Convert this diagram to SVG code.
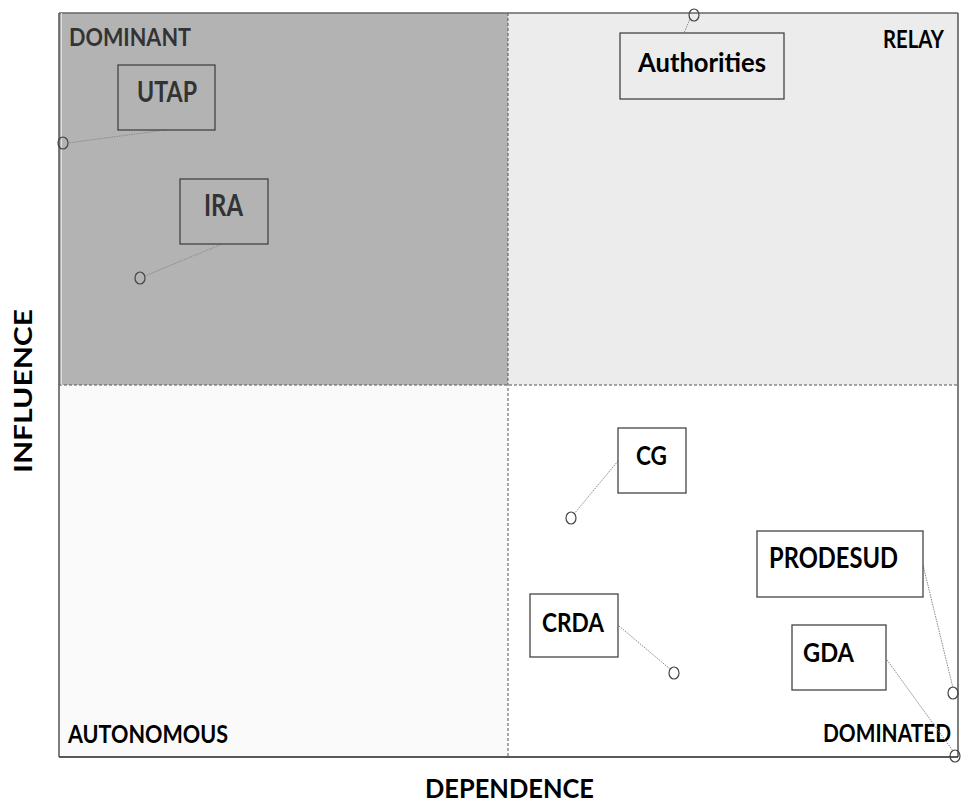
<svg xmlns="http://www.w3.org/2000/svg" width="965" height="804" viewBox="0 0 965 804">
<style>
.t{font-family:Lato,"Open Sans","Liberation Sans",sans-serif;font-weight:bold;fill:#000}
.g{fill:#333}
.box{stroke:#444;stroke-width:1.3}
.con{stroke:#8a8a8a;stroke-width:1;stroke-dasharray:1.5 1;fill:none}
.pt{fill:none;stroke:#444;stroke-width:1.2}
.div{stroke:#555;stroke-width:1;stroke-dasharray:3 2;fill:none}
</style>
<rect width="965" height="804" fill="#fff"/>
<g id="quadrants">
<rect x="59" y="13" width="449" height="372" fill="#b3b3b3"/>
<rect x="508" y="13" width="450" height="372" fill="#ececec"/>
<rect x="59" y="385" width="449" height="372" fill="#fafafa"/>
<rect x="508" y="385" width="450" height="372" fill="#fff"/>
<line x1="508" y1="13" x2="508" y2="757" class="div"/>
<line x1="59" y1="385" x2="958" y2="385" class="div"/>
<line x1="59" y1="13" x2="958" y2="13" stroke="#666" stroke-width="1.5"/>
<line x1="958" y1="13" x2="958" y2="757" stroke="#555" stroke-width="1.5"/>
<line x1="59" y1="757" x2="958" y2="757" stroke="#222" stroke-width="1.5"/>
<line x1="59" y1="13" x2="59" y2="757" stroke="#555" stroke-width="1.5"/>
<line x1="61.5" y1="13" x2="61.5" y2="385" stroke="#ddd" stroke-width="1"/>
</g>
<g id="quadrant-labels">
<text class="t g" x="69" y="46" font-size="25" textLength="122" lengthAdjust="spacingAndGlyphs">DOMINANT</text>
<text class="t" x="883" y="48" font-size="25" textLength="61" lengthAdjust="spacingAndGlyphs">RELAY</text>
<text class="t" x="68" y="743" font-size="24" textLength="160" lengthAdjust="spacingAndGlyphs">AUTONOMOUS</text>
<text class="t" x="823" y="742" font-size="24" textLength="128" lengthAdjust="spacingAndGlyphs">DOMINATED</text>
</g>
<g id="axis-labels">
<text class="t" x="425" y="798" font-size="27" textLength="169" lengthAdjust="spacingAndGlyphs">DEPENDENCE</text>
<text class="t" x="0" y="0" font-size="24" transform="translate(32,473) rotate(-90)" textLength="164" lengthAdjust="spacingAndGlyphs">INFLUENCE</text>
</g>
<g id="connectors">
<line class="con" x1="165" y1="130" x2="68" y2="143"/>
<line class="con" x1="222" y1="244" x2="145" y2="276"/>
<line class="con" x1="656" y1="99" x2="690" y2="19"/>
<line class="con" x1="618" y1="461" x2="574" y2="514"/>
<line class="con" x1="923" y1="565" x2="953" y2="688"/>
<line class="con" x1="619" y1="626" x2="670" y2="669"/>
<line class="con" x1="887" y1="660" x2="953" y2="751"/>
</g>
<g id="UTAP">
<rect class="box" x="118" y="65" width="97" height="65" fill="none"/>
<text class="t g" x="137" y="102" font-size="29" textLength="60" lengthAdjust="spacingAndGlyphs">UTAP</text>
<ellipse class="pt" cx="63" cy="143" rx="5" ry="6"/>
</g>
<g id="IRA">
<rect class="box" x="180" y="179" width="88" height="65" fill="none"/>
<text class="t g" x="204" y="216" font-size="30" textLength="39" lengthAdjust="spacingAndGlyphs">IRA</text>
<ellipse class="pt" cx="140" cy="278" rx="5" ry="6"/>
</g>
<g id="Authorities">
<rect class="box" x="620" y="33" width="164" height="66" fill="#ececec"/>
<text class="t" x="638" y="72" font-size="26" textLength="128" lengthAdjust="spacingAndGlyphs">Authorities</text>
<ellipse class="pt" cx="694" cy="15" rx="5" ry="6" fill="#fff"/>
</g>
<g id="CG">
<rect class="box" x="618" y="428" width="68" height="65" fill="#fff"/>
<text class="t" x="636" y="465" font-size="26" textLength="31" lengthAdjust="spacingAndGlyphs">CG</text>
<ellipse class="pt" cx="571" cy="518" rx="5" ry="6"/>
</g>
<g id="PRODESUD">
<rect class="box" x="757" y="531" width="166" height="66" fill="#fff"/>
<text class="t" x="769" y="568" font-size="28" textLength="129" lengthAdjust="spacingAndGlyphs">PRODESUD</text>
<ellipse class="pt" cx="953" cy="693" rx="5" ry="6" fill="#fff"/>
</g>
<g id="CRDA">
<rect class="box" x="530" y="594" width="88" height="63" fill="#fff"/>
<text class="t" x="542" y="632" font-size="26" textLength="62" lengthAdjust="spacingAndGlyphs">CRDA</text>
<ellipse class="pt" cx="674" cy="673" rx="5" ry="6"/>
</g>
<g id="GDA">
<rect class="box" x="792" y="625" width="94" height="65" fill="#fff"/>
<text class="t" x="803" y="662" font-size="26" textLength="51" lengthAdjust="spacingAndGlyphs">GDA</text>
<ellipse class="pt" cx="955" cy="756" rx="5" ry="6" fill="#fff"/>
</g>
</svg>
